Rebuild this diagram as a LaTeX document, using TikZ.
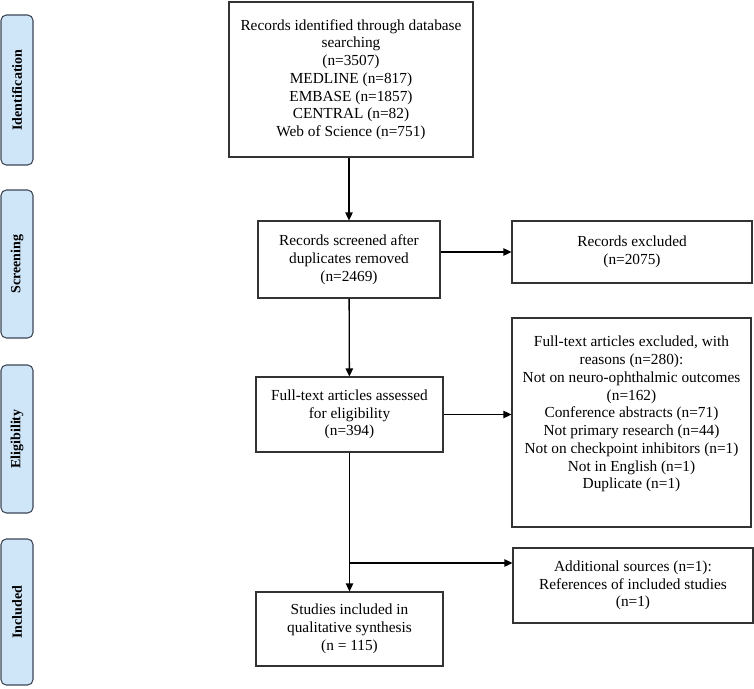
\documentclass[tikz,border=0pt]{standalone}
\usepackage{fontspec}
\setmainfont{Liberation Serif}
\usetikzlibrary{arrows.meta,positioning}
\definecolor{stagefill}{RGB}{207,230,249}
\definecolor{stageline}{RGB}{60,70,85}

\begin{document}
\begin{tikzpicture}[x=0.75pt, y=-0.75pt, >={Triangle[length=6pt,width=5.5pt]},
	every node/.style={font=\fontsize{11.5}{13.3}\selectfont},
	flowbox/.style 2 args={draw=black!80, line width=0.8pt, align=center, inner sep=2pt,
		minimum width=#1*0.75pt, minimum height=#2*0.75pt},
	stage/.style={draw=stageline, fill=stagefill, line width=0.8pt, rounded corners=4pt,
		rotate=90, minimum height=32*0.75pt, font=\fontsize{10.5}{13}\selectfont\bfseries},
	flow/.style={->, line width=1pt}]
	\useasboundingbox (0,0) rectangle (754,689);
	% stage labels on the left
	\foreach \n/\t/\y/\h in {ident/Identification/90/150, screen/Screening/264/148,
		elig/Eligibility/439/148, incl/Included/612/146} {
		\node[stage, minimum width=\h*0.75pt] (\n) at (17,\y) {\t};
	}
	% main column
	\node[flowbox={244}{155}] (found) at (351,79.5) {Records identified through database\\searching\\(n=3507)\\MEDLINE (n=817)\\EMBASE (n=1857)\\CENTRAL (n=82)\\Web of Science (n=751)};
	\node[flowbox={182}{77}] (screened) at (349,259.5) {Records screened after\\duplicates removed\\(n=2469)};
	\node[flowbox={187}{75}] (assessed) at (349.5,414.5) {Full-text articles assessed\\for eligibility\\(n=394)};
	\node[flowbox={187}{74}] (included) at (349.5,629) {Studies included in\\qualitative synthesis\\(n = 115)};
	% right column
	\node[flowbox={240}{62}] (excl) at (632,252) {Records excluded\\(n=2075)};
	\node[flowbox={239}{209}, text depth=20*0.75pt] (ftexcl) at (631.5,422.5) {Full-text articles excluded, with\\reasons (n=280):\\Not on neuro-ophthalmic outcomes\\(n=162)\\Conference abstracts (n=71)\\Not primary research (n=44)\\Not on checkpoint inhibitors (n=1)\\Not in English (n=1)\\Duplicate (n=1)};
	\node[flowbox={240}{75}] (extra) at (633,585.5) {Additional sources (n=1):\\References of included studies\\(n=1)};
	\coordinate (split) at (349,563);
	% connectors
	\draw[flow] (found.south -| screened) -- (screened);
	\draw[flow] (screened) -- (assessed);
	\draw[flow] (assessed.south -| included) -- (included);
	\draw[flow] (screened.east |- excl) -- (excl);
	\draw[flow] (assessed.east |- assessed) -- (ftexcl.west |- assessed);
	\draw[flow] (split) -- (extra.west |- split);
\end{tikzpicture}
\end{document}
